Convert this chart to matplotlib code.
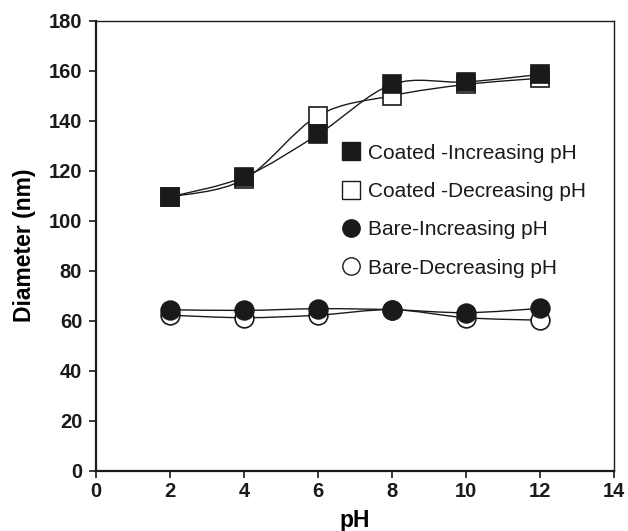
import matplotlib
matplotlib.use("Agg")
import matplotlib.pyplot as plt
from matplotlib.path import Path
from matplotlib.patches import PathPatch
from matplotlib.lines import Line2D

plt.rcParams['font.family'] = ['Liberation Sans', 'DejaVu Sans']

ph = [2, 4, 6, 8, 10, 12]
coated_inc = [109.5, 117.5, 134.5, 154.5, 155.5, 158.5]
coated_dec = [109.5, 116.5, 142.0, 150.0, 154.5, 157.0]
bare_inc = [64.4, 64.1, 64.8, 64.4, 63.2, 64.9]
bare_dec = [62.2, 61.2, 62.2, 64.4, 61.2, 60.2]
labels = ["Coated -Increasing pH", "Coated -Decreasing pH",
          "Bare-Increasing pH", "Bare-Decreasing pH"]
xticks = [0, 2, 4, 6, 8, 10, 12, 14]
yticks = [0, 20, 40, 60, 80, 100, 120, 140, 160, 180]


def smooth_path(xs, ys):
    pts = list(zip(xs, ys))
    n = len(pts)
    verts = [pts[0]]
    codes = [Path.MOVETO]
    for i in range(n - 1):
        p0 = pts[i - 1] if i > 0 else pts[i]
        p1 = pts[i]
        p2 = pts[i + 1]
        p3 = pts[i + 2] if i + 2 < n else pts[i + 1]
        c1 = (p1[0] + (p2[0] - p0[0]) / 6, p1[1] + (p2[1] - p0[1]) / 6)
        c2 = (p2[0] - (p3[0] - p1[0]) / 6, p2[1] - (p3[1] - p1[1]) / 6)
        verts += [c1, c2, p2]
        codes += [Path.CURVE4] * 3
    return Path(verts, codes)


fig = plt.figure(figsize=(6.28, 5.31), dpi=100)
ax = fig.add_axes([0.1529, 0.1136, 0.8248, 0.8474])

for ys in [coated_inc, coated_dec, bare_inc, bare_dec]:
    ax.add_patch(PathPatch(smooth_path(ph, ys), facecolor='none',
                           edgecolor='#1a1a1a', lw=1.0, zorder=1))

ms = 13.5
ax.plot(ph, coated_dec, ls='none', marker='s', ms=ms, mfc='white',
        mec='#1a1a1a', mew=1.2, zorder=2)
ax.plot(ph, bare_dec, ls='none', marker='o', ms=ms, mfc='white',
        mec='#1a1a1a', mew=1.2, zorder=2)
ax.plot(ph, coated_inc, ls='none', marker='s', ms=ms, mfc='#1a1a1a',
        mec='#1a1a1a', mew=1.2, zorder=3)
ax.plot(ph, bare_inc, ls='none', marker='o', ms=ms, mfc='#1a1a1a',
        mec='#1a1a1a', mew=1.2, zorder=3)

ax.set_xlim(0, 14)
ax.set_ylim(0, 180)
ax.set_xticks(xticks)
ax.set_yticks(yticks)
ax.tick_params(direction='out', length=5, width=1.2, labelsize=14.5,
               pad=3, colors='#1a1a1a')
ax.tick_params(axis='y', pad=5)
for lab in ax.get_xticklabels() + ax.get_yticklabels():
    lab.set_fontweight('bold')
for sp in ax.spines.values():
    sp.set_linewidth(1.0)
    sp.set_color('#1a1a1a')
ax.spines['left'].set_linewidth(1.6)
ax.spines['bottom'].set_linewidth(1.6)

ax.set_xlabel('pH', fontsize=16.5, fontweight='bold', labelpad=6)
ax.set_ylabel('Diameter (nm)', fontsize=16.5, fontweight='bold', labelpad=9)

handles = [
    Line2D([], [], ls='none', marker='s', ms=12.5, mfc='#1a1a1a', mec='#1a1a1a'),
    Line2D([], [], ls='none', marker='s', ms=12.5, mfc='white', mec='#1a1a1a', mew=1.0),
    Line2D([], [], ls='none', marker='o', ms=12.5, mfc='#1a1a1a', mec='#1a1a1a'),
    Line2D([], [], ls='none', marker='o', ms=12.5, mfc='white', mec='#1a1a1a', mew=1.0),
]
leg = ax.legend(handles, labels, loc='upper left', bbox_to_anchor=(0.473, 0.727),
                frameon=False, fontsize=15, handlelength=1.0, handletextpad=0.3,
                labelspacing=0.93, borderpad=0, borderaxespad=0)
for t in leg.get_texts():
    t.set_color('#1a1a1a')

fig.savefig('out.png', dpi=100)
